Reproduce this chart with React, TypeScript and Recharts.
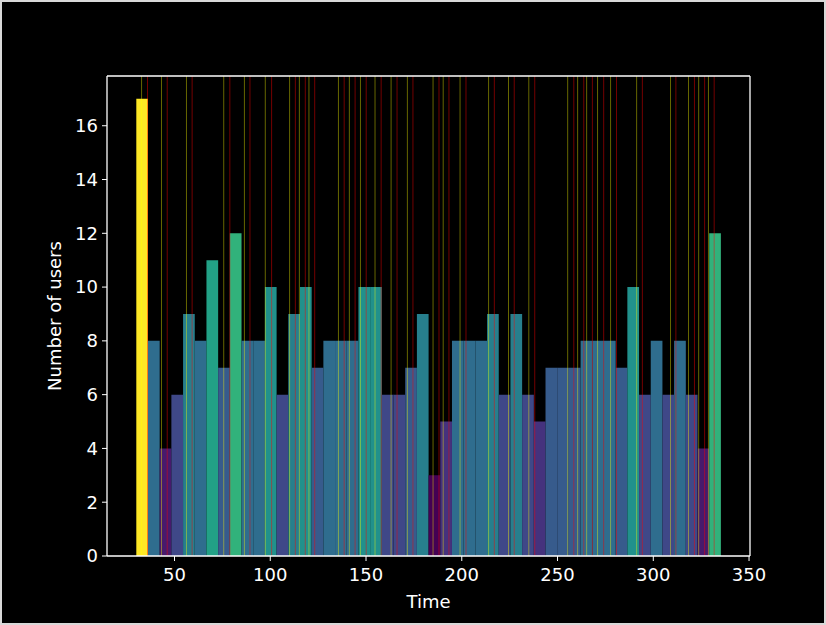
import React from 'react';
import {
  ComposedChart,
  Line,
  XAxis,
  YAxis,
  ReferenceArea,
  ReferenceLine,
} from 'recharts';

// histogram: 50 bins between first and last session time
const BIN_LO = 30.05;
const BIN_HI = 335.3;
const counts = [
  17, 8, 4, 6, 9, 8, 11, 7, 12, 8,
  8, 10, 6, 9, 10, 7, 8, 8, 8, 10,
  10, 6, 6, 7, 9, 3, 5, 8, 8, 8,
  9, 6, 9, 6, 5, 7, 7, 7, 8, 8,
  8, 7, 10, 6, 8, 6, 8, 6, 4, 12,
];

// event markers (yellow = start, red = end)
const startTimes = [
  32.8, 43.2, 56.25, 75.7, 86.5, 97.4, 110.1, 115.2, 120.2, 135.6,
  141.3, 147.1, 154.7, 163.1, 171.6, 185.0, 190.3, 199.1, 214.0, 224.4,
  235.0, 255.3, 260.5, 265.2, 270.9, 277.7, 291.3, 309.0, 318.4, 323.7,
  328.8,
];
const endTimes = [
  35.9, 46.2, 59.2, 78.9, 89.4, 100.7, 113.1, 118.3, 123.2, 138.6,
  144.3, 150.1, 157.9, 166.2, 174.5, 188.1, 193.3, 202.2, 217.0, 227.4,
  238.1, 258.5, 263.7, 268.2, 274.1, 280.8, 294.3, 311.8, 321.5, 326.8,
  331.8,
];

const xTicks = [50, 100, 150, 200, 250, 300, 350];
const yTicks = [0, 2, 4, 6, 8, 10, 12, 14, 16];

const X_DOMAIN: [number, number] = [14.75, 350.5];
const Y_MAX = 17.85;

const VIRIDIS = [
  '#440154', '#482475', '#414487', '#355f8d', '#2a788e', '#21918c',
  '#22a884', '#44bf70', '#7ad151', '#bddf26', '#fde725',
];

function hexToRgb(h: string) {
  return [1, 3, 5].map((i) => parseInt(h.slice(i, i + 2), 16));
}

function viridis(t: number) {
  const p = Math.max(0, Math.min(1, t)) * (VIRIDIS.length - 1);
  const i = Math.min(Math.floor(p), VIRIDIS.length - 2);
  const f = p - i;
  const a = hexToRgb(VIRIDIS[i]);
  const b = hexToRgb(VIRIDIS[i + 1]);
  const c = a.map((v, k) => Math.round(v + (b[k] - v) * f));
  return `rgb(${c[0]},${c[1]},${c[2]})`;
}

const cMin = Math.min(...counts);
const cMax = Math.max(...counts);
const binW = (BIN_HI - BIN_LO) / counts.length;
const bins = counts.map((count, i) => ({
  x0: BIN_LO + i * binW,
  x1: BIN_LO + (i + 1) * binW,
  x: BIN_LO + (i + 0.5) * binW,
  count,
  color: viridis((count - cMin) / (cMax - cMin)),
}));

const FONT = '"DejaVu Sans", sans-serif';
const tickStyle = { fontSize: 18, fill: '#ffffff', fontFamily: FONT };

const App: React.FC = () => {
  return (
    <div style={{ position: 'fixed', left: 0, top: 0, width: 826, height: 625, background: '#d8d8d8' }}>
      <div style={{ position: 'absolute', left: 2, top: 2, width: 822, height: 621, background: '#000' }} />
      <div style={{ position: 'absolute', left: 0, top: 0 }}>
        <ComposedChart
          width={826}
          height={625}
          data={bins}
          margin={{ top: 76, right: 76, bottom: 19, left: 47 }}
        >
          <XAxis
            dataKey="x"
            type="number"
            domain={X_DOMAIN}
            ticks={xTicks}
            allowDataOverflow
            height={50}
            tick={tickStyle}
            tickSize={5}
            tickMargin={7}
            tickLine={{ stroke: '#ffffff' }}
            axisLine={{ stroke: '#ffffff', strokeWidth: 1.3 }}
            label={{
              content: ({ viewBox }: any) => (
                <text
                  x={viewBox.x + viewBox.width / 2}
                  y={608}
                  textAnchor="middle"
                  fill="#ffffff"
                  fontSize={18}
                  fontFamily={FONT}
                >
                  Time
                </text>
              ),
            }}
          />
          <YAxis
            type="number"
            domain={[0, Y_MAX]}
            ticks={yTicks}
            allowDataOverflow
            width={60}
            tick={tickStyle}
            tickSize={5}
            tickMargin={4}
            tickLine={{ stroke: '#ffffff' }}
            axisLine={{ stroke: '#ffffff', strokeWidth: 1.3 }}
            label={{
              content: ({ viewBox }: any) => (
                <text
                  x={viewBox.x + 7}
                  y={viewBox.y + viewBox.height / 2}
                  transform={`rotate(-90 ${viewBox.x + 7} ${viewBox.y + viewBox.height / 2})`}
                  textAnchor="middle"
                  dominantBaseline="central"
                  fill="#ffffff"
                  fontSize={18}
                  fontFamily={FONT}
                >
                  Number of users
                </text>
              ),
            }}
          />

          {bins.map((b, i) => (
            <ReferenceArea
              key={`bin-${i}`}
              x1={b.x0}
              x2={b.x1}
              y1={0}
              y2={b.count}
              fill={b.color}
              fillOpacity={1}
              stroke="none"
            />
          ))}

          {startTimes.map((t, i) => (
            <ReferenceLine key={`s-${i}`} x={t} stroke="#ffff00" strokeOpacity={0.4} strokeWidth={1} />
          ))}
          {endTimes.map((t, i) => (
            <ReferenceLine key={`e-${i}`} x={t} stroke="#ff0000" strokeOpacity={0.45} strokeWidth={1} />
          ))}

          {/* top and right spines */}
          <ReferenceLine y={Y_MAX} stroke="#ffffff" strokeWidth={1.3} />
          <ReferenceLine x={X_DOMAIN[1]} stroke="#ffffff" strokeWidth={1.3} />

          <Line
            dataKey="count"
            stroke="none"
            dot={false}
            activeDot={false}
            isAnimationActive={false}
          />
        </ComposedChart>
      </div>
    </div>
  );
};

export default App;
